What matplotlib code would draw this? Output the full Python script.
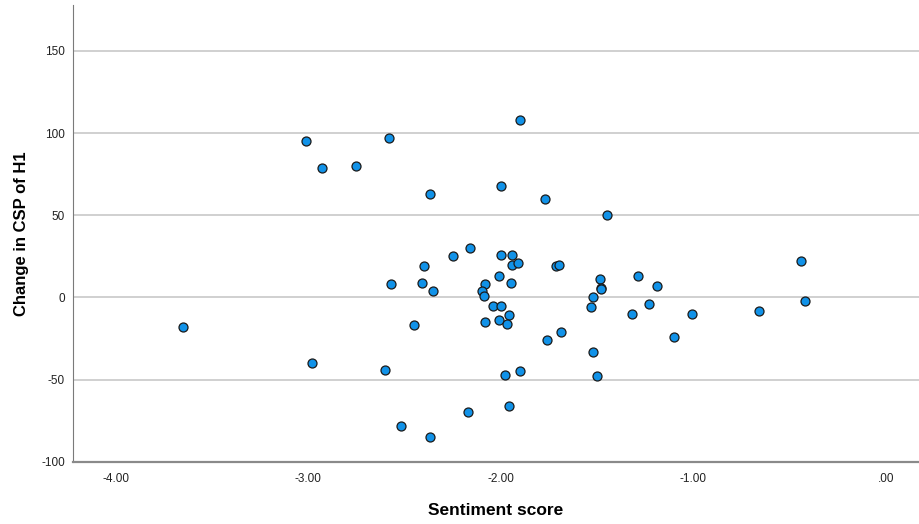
import matplotlib
matplotlib.use("Agg")
import matplotlib.pyplot as plt

plt.rcParams['font.family'] = ['Liberation Sans', 'DejaVu Sans']
plt.rcParams['axes.unicode_minus'] = False

# sentiment score / change in CSP of H1
sentiment = [-3.01, -2.93, -2.75, -2.58, -2.37, -2.40, -2.25,
             -1.90, -2.00, -1.77, -1.45, -2.16, -2.00, -1.94, -1.94, -1.91,
             -1.715, -1.70, -0.44,
             -3.65, -2.98, -2.60, -2.52, -2.37, -2.57, -2.41, -2.35, -2.45,
             -2.01, -1.95, -2.08, -2.10, -2.09, -2.04, -2.00, -1.96, -2.08,
             -2.01, -1.97, -1.69, -1.76, -1.52, -1.98, -1.90, -1.50, -2.17,
             -1.96, -1.485, -1.48, -1.48, -1.52, -1.53, -1.29, -1.19, -1.23,
             -1.32, -1.01, -1.10, -0.66, -0.42]
csp_change = [95, 79, 80, 97, 63, 19, 25,
              108, 68, 60, 50, 30, 26, 26, 20, 21,
              19, 19.5, 22,
              -18, -40, -44, -78, -85, 8, 9, 4, -17,
              13, 9, 8, 4, 1, -5, -5, -11, -15,
              -14, -16, -21, -26, -33, -47, -45, -48, -70,
              -66, 11, 6, 5, 0, -6, 13, 7, -4,
              -10, -10, -24, -8, -2]

x_ticks = [-4, -3, -2, -1, 0]
x_labels = ['-4.00', '-3.00', '-2.00', '-1.00', '.00']
y_ticks = [-100, -50, 0, 50, 100, 150]

fig = plt.figure(figsize=(9.19, 5.24), dpi=100)
ax = fig.add_axes([0.0798, 0.1189, 0.92, 0.8716])

ax.scatter(sentiment, csp_change, s=42, c='#1192e8', edgecolors='#1a1a1a',
           linewidths=0.9, zorder=3)

ax.set_xlim(-4.22, 0.17)
ax.set_ylim(-100, 178)
ax.set_xticks(x_ticks)
ax.set_xticklabels(x_labels)
ax.set_yticks(y_ticks)
ax.yaxis.grid(True, color='#c8c8c8', linewidth=1.2, zorder=0)
ax.tick_params(length=0, labelsize=8.5, colors='#222222')
ax.tick_params(axis='x', pad=8)
ax.tick_params(axis='y', pad=6)

for s in ['top', 'right']:
    ax.spines[s].set_visible(False)
ax.spines['left'].set_color('#7a7a7a')
ax.spines['bottom'].set_color('#8a8a8a')
ax.spines['bottom'].set_linewidth(1.6)

ax.set_xlabel('Sentiment score', fontsize=12.5, fontweight='bold', labelpad=13)
ax.set_ylabel('Change in CSP of H1', fontsize=12, fontweight='bold', labelpad=9)

fig.savefig('out.png', dpi=100)
